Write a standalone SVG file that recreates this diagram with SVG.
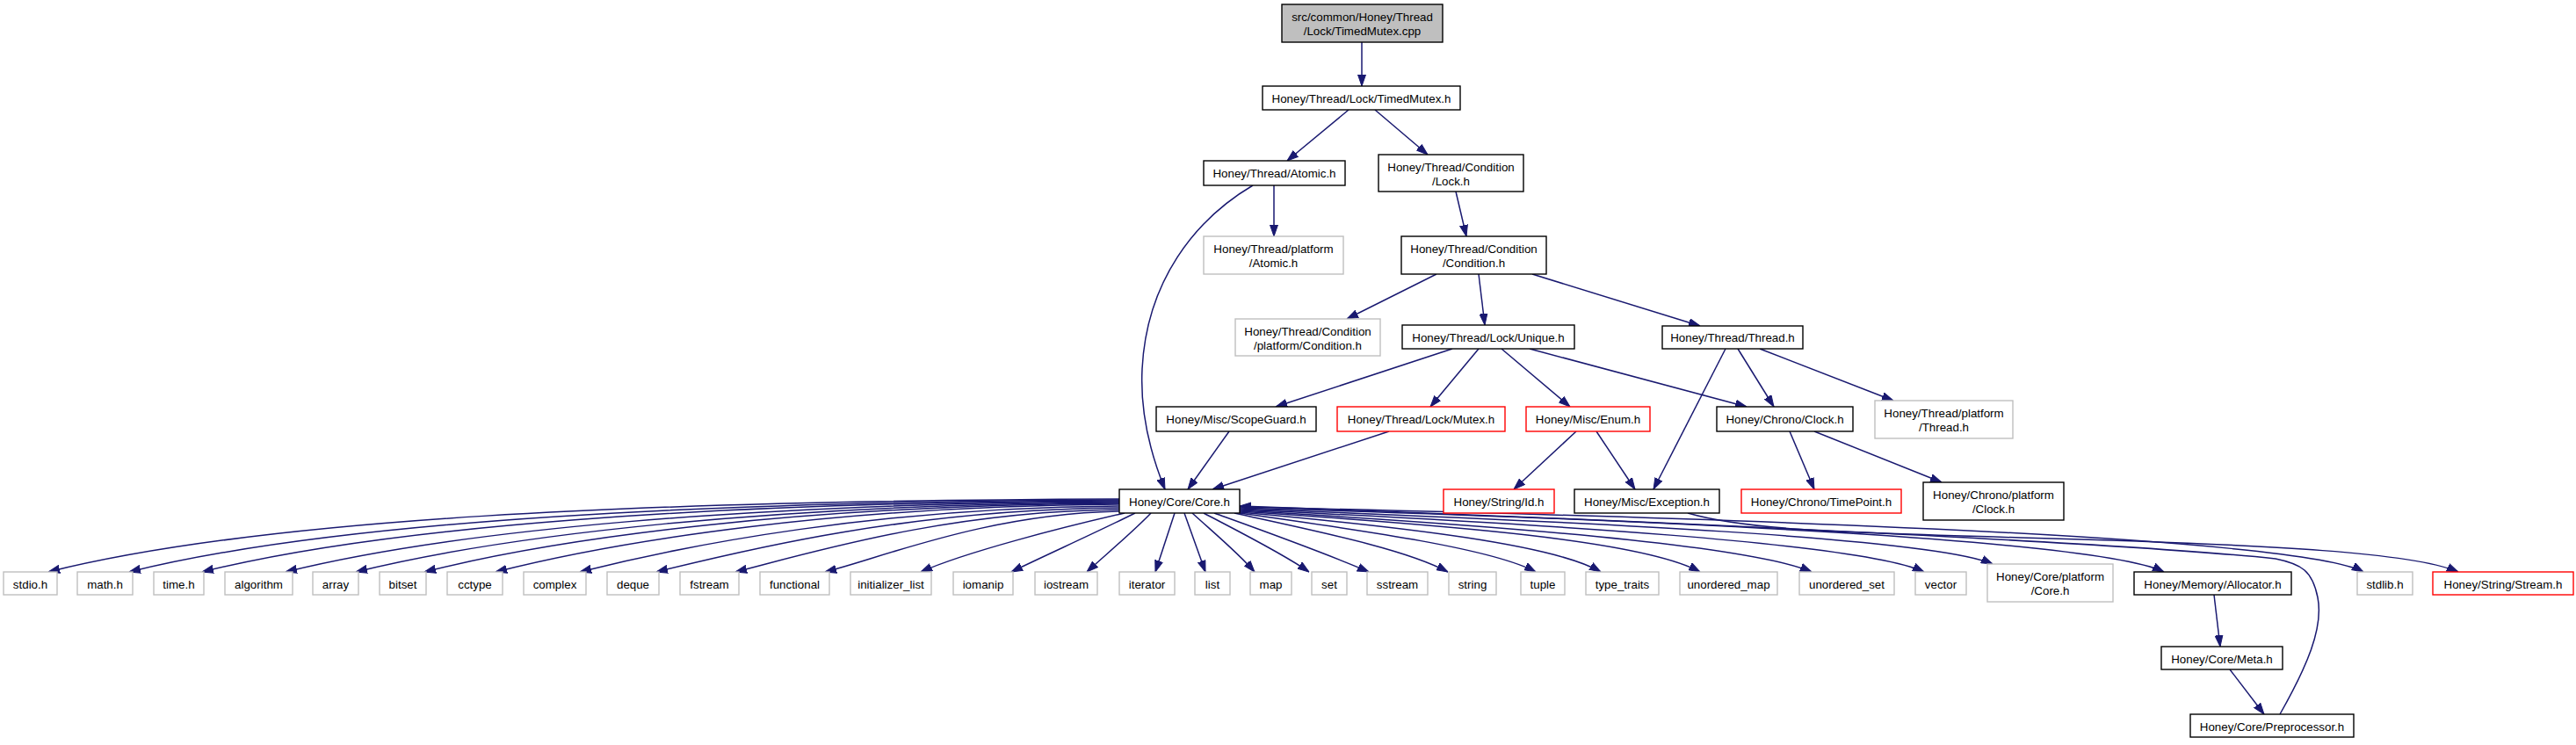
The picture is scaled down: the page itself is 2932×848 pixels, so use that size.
<svg xmlns="http://www.w3.org/2000/svg" width="2932" height="848" viewBox="0 0 2932 848">
<style>
rect{fill:#fff;stroke:#000;stroke-width:1.4}
.g rect{stroke:#bfbfbf}
.r rect{stroke:#f00}
.root rect{fill:#bfbfbf}
text{font-family:"Liberation Sans",Arial,Helvetica,sans-serif;font-size:13.33px;text-anchor:middle;fill:#000}
#edges path{fill:none;stroke:#191970;stroke-width:1.5;marker-end:url(#ah)}
</style>
<defs>
<marker id="ah" markerWidth="13" markerHeight="10" refX="13" refY="5" orient="auto" markerUnits="userSpaceOnUse">
<path d="M0,0.5 L13,5 L0,9.5 z" fill="#191970" stroke="#191970" stroke-width="1"/>
</marker>
</defs>
<rect x="0" y="0" width="2932" height="848" style="fill:#fff;stroke:none"/>
<g id="edges">
<path d="M1550,48 L1550,98"/>
<path d="M1535,125 L1465,183"/>
<path d="M1565,125 L1625,176"/>
<path d="M1450,211 L1450,269"/>
<path d="M1426,211 C1360,250 1305,320 1300,420 C1297,480 1315,530 1326,557"/>
<path d="M1657,218 L1669,269"/>
<path d="M1635,312 L1533,363"/>
<path d="M1683,312 L1690,370"/>
<path d="M1744,312 L1935,371"/>
<path d="M1653,397 L1452,463"/>
<path d="M1683,397 L1628,463"/>
<path d="M1709,397 L1787,463"/>
<path d="M1741,397 L1988,463"/>
<path d="M1964,397 L1882,557"/>
<path d="M1978,397 L2019,463"/>
<path d="M2003,397 L2155,456"/>
<path d="M1399,491 L1352,557"/>
<path d="M1581,491 L1380,557"/>
<path d="M1794,491 L1723,557"/>
<path d="M1817,491 L1861,557"/>
<path d="M2037,491 L2065,557"/>
<path d="M2065,491 L2210,549"/>
<path d="M2520,677 L2527,736"/>
<path d="M2538,762 L2577,813"/>
<path d="M2595,813 C2625,760 2645,715 2638,680 C2632,650 2620,642 2590,636 C2400,616 1800,590 1411,576"/>
<path d="M1921,584 C1990,604 2100,606 2300,612 C2600,620 2750,630 2798,651"/>
<path d="M1274,568 C725,570 299,590 55,651"/>
<path d="M1274,569 C767,571 372,595 147,651"/>
<path d="M1274,570 C804,572 439,599 230,651"/>
<path d="M1274,571 C847,573 515,604 325,651"/>
<path d="M1274,572 C883,574 579,608 405,651"/>
<path d="M1274,573 C918,575 641,611 483,651"/>
<path d="M1274,574 C954,576 706,615 564,651"/>
<path d="M1274,576 C998,578 783,620 660,651"/>
<path d="M1274,578 C1037,580 852,625 747,651"/>
<path d="M1274,580 C1077,582 924,629 837,651"/>
<path d="M1274,582 C1123,585 1006,634 939,651"/>
<path d="M1280,584 C1210,600 1100,628 1048,651"/>
<path d="M1292,584 C1250,605 1190,632 1151,651"/>
<path d="M1310,584 C1290,605 1260,630 1237,651"/>
<path d="M1337,584 L1315,651"/>
<path d="M1348,584 L1372,651"/>
<path d="M1357,584 C1380,605 1410,630 1428,651"/>
<path d="M1370,584 C1410,605 1460,630 1490,651"/>
<path d="M1382,584 C1440,605 1510,630 1558,651"/>
<path d="M1405,584 C1500,605 1600,625 1648,651"/>
<path d="M1411,584 C1560,605 1700,625 1748,651"/>
<path d="M1411,583 C1600,600 1770,620 1822,651"/>
<path d="M1411,582 C1650,598 1870,615 1935,651"/>
<path d="M1411,581 C1700,598 1990,620 2062,651"/>
<path d="M1411,580 C1750,596 2120,618 2190,651"/>
<path d="M1411,579 C1800,594 2200,612 2268,642"/>
<path d="M1411,578 C1900,592 2390,615 2463,651"/>
<path d="M1411,577 C2000,590 2620,612 2690,651"/>
</g>
<g id="n_root" class="root"><rect x="1459" y="5" width="183" height="43"/><text x="1550.5" y="24">src/common/Honey/Thread</text><text x="1550.5" y="40">/Lock/TimedMutex.cpp</text></g>
<g id="n_timedmutex"><rect x="1437" y="98" width="225" height="27"/><text x="1549.5" y="117">Honey/Thread/Lock/TimedMutex.h</text></g>
<g id="n_atomic"><rect x="1370" y="183" width="161" height="28"/><text x="1450.5" y="202">Honey/Thread/Atomic.h</text></g>
<g id="n_condlock"><rect x="1569" y="176" width="165" height="42"/><text x="1651.5" y="195">Honey/Thread/Condition</text><text x="1651.5" y="211">/Lock.h</text></g>
<g id="n_platatomic" class="g"><rect x="1370" y="269" width="159" height="43"/><text x="1449.5" y="288">Honey/Thread/platform</text><text x="1449.5" y="304">/Atomic.h</text></g>
<g id="n_condition"><rect x="1595" y="269" width="165" height="43"/><text x="1677.5" y="288">Honey/Thread/Condition</text><text x="1677.5" y="304">/Condition.h</text></g>
<g id="n_platcondition" class="g"><rect x="1406" y="363" width="165" height="42"/><text x="1488.5" y="382">Honey/Thread/Condition</text><text x="1488.5" y="398">/platform/Condition.h</text></g>
<g id="n_unique"><rect x="1596" y="370" width="196" height="27"/><text x="1694" y="389">Honey/Thread/Lock/Unique.h</text></g>
<g id="n_thread"><rect x="1892" y="371" width="160" height="26"/><text x="1972" y="389">Honey/Thread/Thread.h</text></g>
<g id="n_scopeguard"><rect x="1316" y="463" width="182" height="28"/><text x="1407" y="482">Honey/Misc/ScopeGuard.h</text></g>
<g id="n_mutex" class="r"><rect x="1522" y="463" width="191" height="28"/><text x="1617.5" y="482">Honey/Thread/Lock/Mutex.h</text></g>
<g id="n_enum" class="r"><rect x="1737" y="463" width="141" height="28"/><text x="1807.5" y="482">Honey/Misc/Enum.h</text></g>
<g id="n_clock"><rect x="1954" y="463" width="155" height="28"/><text x="2031.5" y="482">Honey/Chrono/Clock.h</text></g>
<g id="n_platthread" class="g"><rect x="2134" y="456" width="157" height="43"/><text x="2212.5" y="475">Honey/Thread/platform</text><text x="2212.5" y="491">/Thread.h</text></g>
<g id="n_core"><rect x="1274" y="557" width="137" height="27"/><text x="1342.5" y="576">Honey/Core/Core.h</text></g>
<g id="n_id" class="r"><rect x="1643" y="557" width="126" height="27"/><text x="1706" y="576">Honey/String/Id.h</text></g>
<g id="n_exception"><rect x="1792" y="557" width="165" height="27"/><text x="1874.5" y="576">Honey/Misc/Exception.h</text></g>
<g id="n_timepoint" class="r"><rect x="1982" y="557" width="182" height="27"/><text x="2073" y="576">Honey/Chrono/TimePoint.h</text></g>
<g id="n_platclock"><rect x="2189" y="549" width="160" height="43"/><text x="2269" y="568">Honey/Chrono/platform</text><text x="2269" y="584">/Clock.h</text></g>
<g id="n_stdio" class="g"><rect x="4" y="651" width="61" height="26"/><text x="34.5" y="670">stdio.h</text></g>
<g id="n_math" class="g"><rect x="88" y="651" width="63" height="26"/><text x="119.5" y="670">math.h</text></g>
<g id="n_time" class="g"><rect x="175" y="651" width="57" height="26"/><text x="203.5" y="670">time.h</text></g>
<g id="n_algorithm" class="g"><rect x="256" y="651" width="77" height="26"/><text x="294.5" y="670">algorithm</text></g>
<g id="n_array" class="g"><rect x="356" y="651" width="52" height="26"/><text x="382" y="670">array</text></g>
<g id="n_bitset" class="g"><rect x="432" y="651" width="53" height="26"/><text x="458.5" y="670">bitset</text></g>
<g id="n_cctype" class="g"><rect x="509" y="651" width="63" height="26"/><text x="540.5" y="670">cctype</text></g>
<g id="n_complex" class="g"><rect x="596" y="651" width="71" height="26"/><text x="631.5" y="670">complex</text></g>
<g id="n_deque" class="g"><rect x="691" y="651" width="59" height="26"/><text x="720.5" y="670">deque</text></g>
<g id="n_fstream" class="g"><rect x="774" y="651" width="67" height="26"/><text x="807.5" y="670">fstream</text></g>
<g id="n_functional" class="g"><rect x="865" y="651" width="79" height="26"/><text x="904.5" y="670">functional</text></g>
<g id="n_initlist" class="g"><rect x="968" y="651" width="92" height="26"/><text x="1014" y="670">initializer_list</text></g>
<g id="n_iomanip" class="g"><rect x="1085" y="651" width="68" height="26"/><text x="1119" y="670">iomanip</text></g>
<g id="n_iostream" class="g"><rect x="1178" y="651" width="71" height="26"/><text x="1213.5" y="670">iostream</text></g>
<g id="n_iterator" class="g"><rect x="1274" y="651" width="63" height="26"/><text x="1305.5" y="670">iterator</text></g>
<g id="n_list" class="g"><rect x="1360" y="651" width="40" height="26"/><text x="1380" y="670">list</text></g>
<g id="n_map" class="g"><rect x="1423" y="651" width="47" height="26"/><text x="1446.5" y="670">map</text></g>
<g id="n_set" class="g"><rect x="1493" y="651" width="40" height="26"/><text x="1513" y="670">set</text></g>
<g id="n_sstream" class="g"><rect x="1556" y="651" width="69" height="26"/><text x="1590.5" y="670">sstream</text></g>
<g id="n_string" class="g"><rect x="1649" y="651" width="54" height="26"/><text x="1676" y="670">string</text></g>
<g id="n_tuple" class="g"><rect x="1731" y="651" width="50" height="26"/><text x="1756" y="670">tuple</text></g>
<g id="n_typetraits" class="g"><rect x="1805" y="651" width="83" height="26"/><text x="1846.5" y="670">type_traits</text></g>
<g id="n_umap" class="g"><rect x="1912" y="651" width="111" height="26"/><text x="1967.5" y="670">unordered_map</text></g>
<g id="n_uset" class="g"><rect x="2048" y="651" width="108" height="26"/><text x="2102" y="670">unordered_set</text></g>
<g id="n_vector" class="g"><rect x="2180" y="651" width="58" height="26"/><text x="2209" y="670">vector</text></g>
<g id="n_platcore" class="g"><rect x="2262" y="642" width="143" height="43"/><text x="2333.5" y="661">Honey/Core/platform</text><text x="2333.5" y="677">/Core.h</text></g>
<g id="n_allocator"><rect x="2429" y="651" width="179" height="26"/><text x="2518.5" y="670">Honey/Memory/Allocator.h</text></g>
<g id="n_stdlib" class="g"><rect x="2683" y="651" width="63" height="26"/><text x="2714.5" y="670">stdlib.h</text></g>
<g id="n_stream" class="r"><rect x="2769" y="651" width="160" height="26"/><text x="2849" y="670">Honey/String/Stream.h</text></g>
<g id="n_meta"><rect x="2460" y="736" width="138" height="26"/><text x="2529" y="755">Honey/Core/Meta.h</text></g>
<g id="n_preprocessor"><rect x="2493" y="813" width="186" height="26"/><text x="2586" y="832">Honey/Core/Preprocessor.h</text></g>
</svg>
